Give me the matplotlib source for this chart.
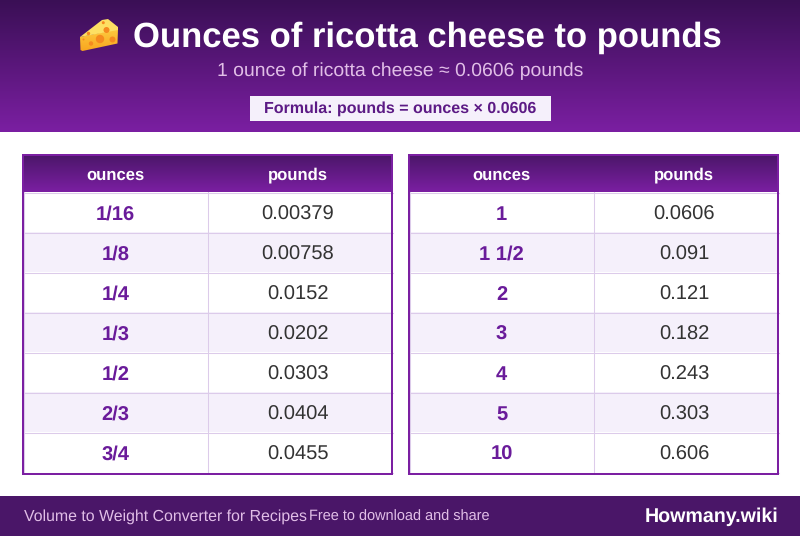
import numpy as np
import matplotlib
matplotlib.use("Agg")
import matplotlib.pyplot as plt
from matplotlib.colors import LinearSegmentedColormap
from matplotlib.patches import Circle, Polygon, Rectangle

title = "Ounces of ricotta cheese to pounds"
subtitle = "1 ounce of ricotta cheese ≈ 0.0606 pounds"
formula = "Formula: pounds = ounces × 0.0606"
columns = ["ounces", "pounds"]
left_ounces = ["1/16", "1/8", "1/4", "1/3", "1/2", "2/3", "3/4"]
left_pounds = ["0.00379", "0.00758", "0.0152", "0.0202", "0.0303", "0.0404", "0.0455"]
right_ounces = ["1", "1 1/2", "2", "3", "4", "5", "10"]
right_pounds = ["0.0606", "0.091", "0.121", "0.182", "0.243", "0.303", "0.606"]
footer_left = "Volume to Weight Converter for Recipes"
footer_mid = "Free to download and share"
footer_right = "Howmany.wiki"

DARK = "#3a0f55"
MID = "#4a1668"
PURPLE = "#7b1fa2"
ROW_ALT = "#f5f0fb"
GRID = "#dccbea"

plt.rcParams["font.family"] = ["Liberation Sans", "DejaVu Sans"]
plt.rcParams["text.hinting"] = "no_hinting"
plt.rcParams["text.hinting_factor"] = 8


def gradient(ax, x0, x1, y0, y1, top, bottom, zorder=1):
    cmap = LinearSegmentedColormap.from_list("g", [top, bottom])
    grad = np.linspace(0, 1, 256).reshape(-1, 1)
    return ax.imshow(grad, cmap=cmap, extent=(x0, x1, y1, y0), aspect="auto", zorder=zorder)


def draw_cheese(ax):
    front = Polygon([(80, 37), (80.5, 50), (82.5, 51), (117.5, 43.5), (118, 29)],
                    fc="none", ec="none", zorder=3)
    ax.add_patch(front)
    img = gradient(ax, 80, 118, 29, 51, "#fdc93f", "#f9a61f", zorder=3)
    img.set_clip_path(front)
    ax.add_patch(Polygon([(80, 37), (102, 20), (108, 19), (118, 27), (118, 30)],
                         fc="#fddf63", ec="none", zorder=3))
    holes = [(100, 39, 4.2), (112.5, 39.5, 3), (91, 43.5, 2.2), (88.5, 33.5, 1.7),
             (106.5, 30, 3), (103.3, 22.7, 1.5), (83.5, 39.5, 1)]
    for hx, hy, hr in holes:
        ax.add_patch(Circle((hx, hy), hr, fc="#f58a1f", ec="none", zorder=4))


def draw_table(ax, x0, x1, split, c1, c2, ounces, pounds):
    top = 154
    head = 192
    row_h = 40
    bottom = head + row_h * len(ounces)
    gradient(ax, x0, x1, top, head, MID, PURPLE)
    ax.text(c1, 179.4, columns[0], color="white", fontsize=12, fontweight="bold",
            ha="center", va="baseline", zorder=5)
    ax.text(c2, 179.4, columns[1], color="white", fontsize=12, fontweight="bold",
            ha="center", va="baseline", zorder=5)
    for i, (oz, lb) in enumerate(zip(ounces, pounds)):
        y = head + i * row_h
        fc = ROW_ALT if i % 2 else "white"
        ax.add_patch(Rectangle((x0, y), x1 - x0, row_h, fc=fc, ec="none", zorder=2))
        ax.plot([x0, x1], [y + row_h + 0.5] * 2, color=GRID, lw=0.75, zorder=3)
        ax.text(c1, y + 27.6, oz, color="#6a1b9a", fontsize=14.5, fontweight="bold",
                ha="center", va="baseline", zorder=5)
        ax.text(c2, y + 27.6, lb, color="#333333", fontsize=14.5,
                ha="center", va="baseline", zorder=5)
    # thin cell edge inside the purple frame
    ax.plot([x0, x1], [head + 0.5] * 2, color=GRID, lw=0.75, zorder=3)
    ax.plot([x0 + 2.2] * 2, [head, bottom], color=GRID, lw=0.75, zorder=3)
    ax.plot([x1 - 2.2] * 2, [head, bottom], color=GRID, lw=0.75, zorder=3)
    ax.plot([split, split], [head, bottom], color=GRID, lw=0.75, zorder=3)
    ax.add_patch(Rectangle((x0 + 1, top + 1), x1 - x0 - 2, bottom + 3 - top - 2, fc="none",
                           ec=PURPLE, lw=1.44, zorder=6))


def main() -> None:
    fig = plt.figure(figsize=(8, 5.36), dpi=100)
    ax = fig.add_axes([0, 0, 1, 1])
    ax.set_xlim(0, 800)
    ax.set_ylim(536, 0)
    ax.axis("off")

    gradient(ax, 0, 800, 0, 132, DARK, PURPLE)
    draw_cheese(ax)
    ax.text(133, 46.6, title, color="white", fontsize=24.92, fontweight="bold",
            ha="left", va="baseline", zorder=5)
    ax.text(400, 76, subtitle, color="#e1bee7", fontsize=13.92, ha="center", va="baseline", zorder=5)
    ax.add_patch(Rectangle((250, 96), 301, 25, fc=ROW_ALT, ec="none", zorder=3))
    ax.text(400.5, 113, formula, color="#5c1a85", fontsize=11.5, fontweight="bold",
            ha="center", va="baseline", zorder=5)

    draw_table(ax, 22, 393, 207.5, 115.5, 298, left_ounces, left_pounds)
    draw_table(ax, 408, 779, 593.5, 501.5, 684, right_ounces, right_pounds)

    ax.add_patch(Rectangle((0, 496), 800, 40, fc=MID, ec="none", zorder=2))
    ax.text(24, 521, footer_left, color="#e1bee7", fontsize=11.42, ha="left", va="baseline", zorder=5)
    ax.text(309, 521, footer_mid, color="#e1bee7", fontsize=10.45, ha="left", va="baseline", zorder=5)
    ax.text(778.5, 522, footer_right, color="white", fontsize=14.1, fontweight="bold",
            ha="right", va="baseline", zorder=5)

    ax.set_xlim(0, 800)
    ax.set_ylim(536, 0)
    fig.savefig("out.png", dpi=100)


if __name__ == "__main__":
    main()
